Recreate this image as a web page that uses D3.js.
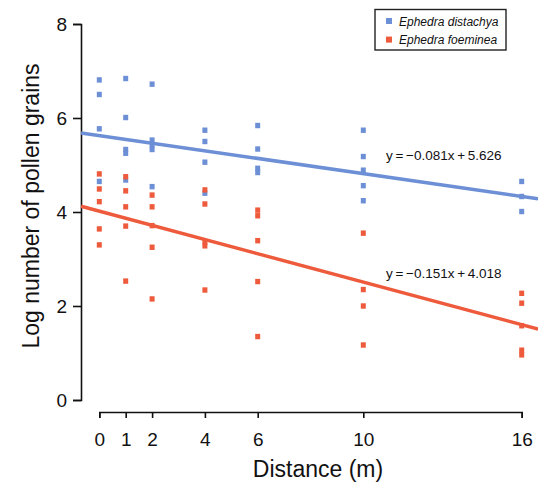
<!DOCTYPE html>
<html>
<head>
<meta charset="utf-8">
<script src="https://cdn.jsdelivr.net/npm/d3@7"></script>
<style>
  body { margin: 0; background: #fff; }
  text { font-family: "Liberation Sans", Arial, sans-serif; }
</style>
</head>
<body>
<div id="container"></div>
<script>
const WIDTH = 538,
      HEIGHT = 485;

// distances sampled (m)
const distances = [0, 1, 2, 4, 6, 10, 16];
const xTicks = [0, 1, 2, 4, 6, 10, 16];
const yTicks = [0, 2, 4, 6, 8];

// log pollen counts read per distance
const distachya = [
    [6.81, 6.50, 5.77, 4.65],
    [6.84, 6.01, 5.33, 5.25, 4.68],
    [6.72, 5.53, 5.42, 5.33, 4.54],
    [5.74, 5.50, 5.06, 4.40],
    [5.84, 5.34, 4.93, 4.84],
    [5.74, 5.18, 4.89, 4.56, 4.24],
    [4.65, 4.33, 4.01]
];
const foeminea = [
    [4.81, 4.49, 4.22, 3.64, 3.30],
    [4.75, 4.45, 4.11, 3.70, 2.53],
    [4.36, 4.11, 3.71, 3.25, 2.15],
    [4.47, 4.17, 3.36, 3.28, 2.34],
    [4.04, 3.92, 3.39, 2.52, 1.35],
    [3.55, 2.35, 2.00, 1.17],
    [2.27, 2.06, 1.58, 1.06, 0.96]
];

// fitted lines: [slope, intercept]
const fitDistachya = [-0.081, 5.626];
const fitFoeminea = [-0.151, 4.018];

const blue = "#6d8fd6",
      red = "#ee5a3c";

const svg = d3.select('#container').append('svg')
    .attr("width", WIDTH).attr("height", HEIGHT);

const xScale = d3.scaleLinear().domain([0, 16]).range([99.3, 521.7]);
const yScale = d3.scaleLinear().domain([0, 8]).range([400, 24]);

// axes (detached, as in the figure)
const xAxis = svg.append("g")
    .attr("transform", "translate(0, 412)")
    .call(d3.axisBottom(xScale).tickValues(xTicks).tickSize(6).tickPadding(15));

const yAxis = svg.append("g")
    .attr("transform", "translate(81, 0)")
    .call(d3.axisLeft(yScale).tickValues(yTicks).tickSize(8).tickPadding(6));

[xAxis, yAxis].forEach(a => {
    a.selectAll("path, line").attr("stroke", "#111").attr("stroke-width", 1.6);
    a.selectAll("text").attr("font-size", 19).attr("fill", "#111")
        .style("font-family", '"Liberation Sans", Arial, sans-serif');
});

svg.append("text")
    .attr("x", 318).attr("y", 477)
    .attr("text-anchor", "middle")
    .attr("font-size", 23)
    .attr("fill", "#111")
    .text("Distance (m)");

svg.append("text")
    .attr("transform", "translate(39, 206) rotate(-90)")
    .attr("text-anchor", "middle")
    .attr("font-size", 23)
    .attr("fill", "#111")
    .text("Log number of pollen grains");

// regression lines
const lineX = [-0.69, 16.62];
const drawFit = (fit, color) => {
    svg.append("line")
        .attr("x1", xScale(lineX[0])).attr("y1", yScale(fit[0] * lineX[0] + fit[1]))
        .attr("x2", xScale(lineX[1])).attr("y2", yScale(fit[0] * lineX[1] + fit[1]))
        .attr("stroke", color)
        .attr("stroke-width", 3.5);
};

// points
const drawPoints = (series, color) => {
    const pts = [];
    series.forEach((vals, i) => vals.forEach(v => pts.push({ x: distances[i], y: v })));
    svg.append("g")
        .selectAll("rect")
        .data(pts)
        .join("rect")
        .attr("x", d => xScale(d.x) - 2.5)
        .attr("y", d => yScale(d.y) - 2.7)
        .attr("width", 5)
        .attr("height", 5.4)
        .attr("fill", color);
};

drawPoints(distachya, blue);
drawPoints(foeminea, red);
drawFit(fitDistachya, blue);
drawFit(fitFoeminea, red);

// equations
svg.append("text")
    .attr("x", 386).attr("y", 160)
    .attr("font-size", 13.5).attr("fill", "#111")
    .text("y\u2009=\u2009\u22120.081x\u2009+\u20095.626");
svg.append("text")
    .attr("x", 386).attr("y", 278)
    .attr("font-size", 13.5).attr("fill", "#111")
    .text("y\u2009=\u2009\u22120.151x\u2009+\u20094.018");

// legend
const legend = svg.append("g");
legend.append("rect")
    .attr("x", 375).attr("y", 9.5)
    .attr("width", 131).attr("height", 40.5)
    .attr("fill", "none").attr("stroke", "#222").attr("stroke-width", 1.4);

const legendItems = [
    { label: "Ephedra distachya", color: blue },
    { label: "Ephedra foeminea", color: red }
];
legendItems.forEach((d, i) => {
    legend.append("rect")
        .attr("x", 386).attr("y", 18 + i * 18.6)
        .attr("width", 6).attr("height", 6)
        .attr("fill", d.color);
    legend.append("text")
        .attr("x", 399).attr("y", 25.5 + i * 18.6)
        .attr("font-size", 12)
        .attr("font-style", "italic")
        .attr("fill", "#111")
        .text(d.label);
});
</script>
</body>
</html>
